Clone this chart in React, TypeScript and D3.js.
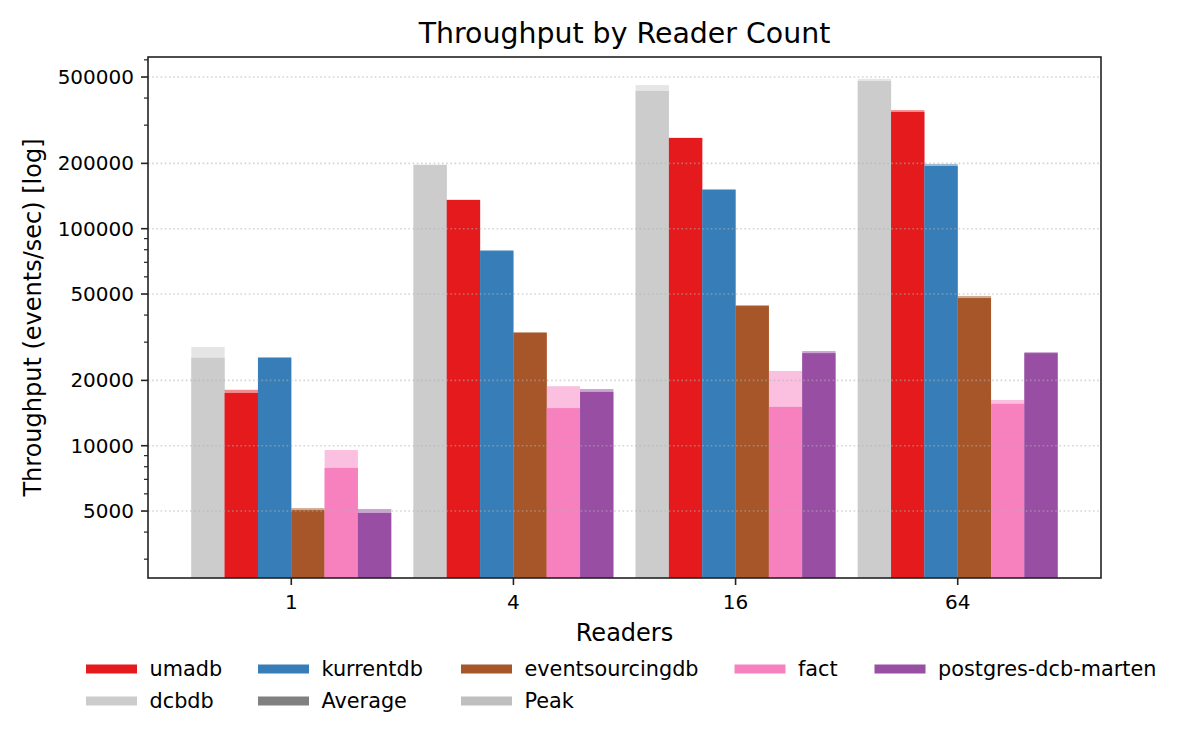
import React, { useEffect, useRef } from 'react';
import * as d3 from 'd3';

const readers = ['1', '4', '16', '64'];
const systems = ['dcbdb', 'umadb', 'kurrentdb', 'eventsourcingdb', 'fact', 'postgres-dcb-marten'];
const systemColors = ['#cccccc', '#e41a1c', '#377eb8', '#a65628', '#f781bf', '#984ea3'];

// average throughput per system, one value per reader count
const dcbdbAvg = [25400, 196600, 431000, 479000];
const umadbAvg = [17500, 135600, 261800, 345000];
const kurrentdbAvg = [25400, 78900, 150800, 194500];
const eventsourcingdbAvg = [5050, 33100, 44000, 47900];
const factAvg = [7900, 14900, 15100, 15600];
const postgresAvg = [4900, 17700, 26700, 26700];

// peak throughput
const dcbdbPeak = [28500, 197500, 459000, 490000];
const umadbPeak = [18100, 136000, 262500, 352000];
const kurrentdbPeak = [25600, 79800, 152400, 198800];
const eventsourcingdbPeak = [5160, 33400, 44500, 49000];
const factPeak = [9550, 18800, 22100, 16250];
const postgresPeak = [5110, 18250, 27300, 27000];

const avgValues = [dcbdbAvg, umadbAvg, kurrentdbAvg, eventsourcingdbAvg, factAvg, postgresAvg];
const peakValues = [dcbdbPeak, umadbPeak, kurrentdbPeak, eventsourcingdbPeak, factPeak, postgresPeak];

const majorTicks = [5000, 10000, 20000, 50000, 100000, 200000, 500000];
const minorTicks = [3000, 4000, 6000, 7000, 8000, 9000, 30000, 40000, 60000, 70000, 80000, 90000,
  300000, 400000, 600000];

// legend: first row are the systems (minus dcbdb), second row dcbdb + the two bar styles
const legendRow1 = ['umadb', 'kurrentdb', 'eventsourcingdb', 'fact', 'postgres-dcb-marten'];
const legendRow1Colors = ['#e41a1c', '#377eb8', '#a65628', '#f781bf', '#984ea3'];
const legendRow2 = ['dcbdb', 'Average', 'Peak'];
const legendRow2Colors = ['#cccccc', '#808080', '#bfbfbf'];

const W = 1200;
const H = 750;
const font = 'DejaVu Sans, sans-serif';
const barWidth = 0.15;

function Chart() {
  const ref = useRef<SVGSVGElement>(null);

  useEffect(() => {
    if (!ref.current) return;
    const svg: any = d3.select(ref.current);
    svg.selectAll('*').remove();

    const left = 148, right = 1101, top = 57, bottom = 578;

    const x = d3.scaleLinear().domain([-0.645, 3.645]).range([left, right]);
    const y = d3.scaleLog().domain([2457, 618300]).range([bottom, top]);

    svg.append('rect').attr('width', W).attr('height', H).attr('fill', '#fff');

    const plot = svg.append('g');
    plot.append('clipPath').attr('id', 'clip')
      .append('rect').attr('x', left).attr('y', top).attr('width', right - left).attr('height', bottom - top);
    const bars = plot.append('g').attr('clip-path', 'url(#clip)');

    systems.forEach((s, si) => {
      const g = bars.append('g').attr('class', 'sys-' + s);
      const x0 = (i: number) => x(i - 0.45 + si * barWidth);
      const bw = x(barWidth) - x(0);
      // peak behind, translucent
      g.selectAll('.peak')
        .data(peakValues[si])
        .enter()
        .append('rect')
        .attr('x', (d: number, i: number) => x0(i))
        .attr('width', bw)
        .attr('y', (d: number) => y(d))
        .attr('height', (d: number) => bottom - y(d))
        .attr('fill', systemColors[si])
        .attr('fill-opacity', 0.5);
      g.selectAll('.avg')
        .data(avgValues[si])
        .enter()
        .append('rect')
        .attr('x', (d: number, i: number) => x0(i))
        .attr('width', bw)
        .attr('y', (d: number) => y(d))
        .attr('height', (d: number) => bottom - y(d))
        .attr('fill', systemColors[si]);
    });

    // grid (drawn over the bars)
    plot.selectAll('.grid')
      .data(majorTicks)
      .enter()
      .append('line')
      .attr('x1', left).attr('x2', right)
      .attr('y1', (d: number) => y(d)).attr('y2', (d: number) => y(d))
      .attr('stroke', '#b0b0b0')
      .attr('stroke-opacity', 0.55)
      .attr('stroke-width', 1.6)
      .attr('stroke-dasharray', '1.6 2.6');

    // y ticks
    plot.selectAll('.ymajor')
      .data(majorTicks)
      .enter()
      .append('line')
      .attr('x1', left - 7).attr('x2', left)
      .attr('y1', (d: number) => y(d)).attr('y2', (d: number) => y(d))
      .attr('stroke', '#222').attr('stroke-width', 1.6);
    plot.selectAll('.yminor')
      .data(minorTicks)
      .enter()
      .append('line')
      .attr('x1', left - 4).attr('x2', left)
      .attr('y1', (d: number) => y(d)).attr('y2', (d: number) => y(d))
      .attr('stroke', '#222').attr('stroke-width', 1.2);
    plot.selectAll('.ylabel')
      .data(majorTicks)
      .enter()
      .append('text')
      .attr('x', left - 14)
      .attr('y', (d: number) => y(d) + 7)
      .attr('text-anchor', 'end')
      .attr('font-family', font)
      .attr('font-size', 20)
      .attr('fill', '#000')
      .text((d: number) => String(d));

    // x ticks
    plot.selectAll('.xtick')
      .data(readers)
      .enter()
      .append('line')
      .attr('x1', (d: string, i: number) => x(i)).attr('x2', (d: string, i: number) => x(i))
      .attr('y1', bottom).attr('y2', bottom + 7)
      .attr('stroke', '#222').attr('stroke-width', 1.6);
    plot.selectAll('.xlabel')
      .data(readers)
      .enter()
      .append('text')
      .attr('x', (d: string, i: number) => x(i))
      .attr('y', 609)
      .attr('text-anchor', 'middle')
      .attr('font-family', font)
      .attr('font-size', 20)
      .attr('fill', '#000')
      .text((d: string) => d);

    // spines
    plot.append('rect')
      .attr('x', left).attr('y', top)
      .attr('width', right - left).attr('height', bottom - top)
      .attr('fill', 'none').attr('stroke', '#222').attr('stroke-width', 1.6);

    // titles
    svg.append('text')
      .attr('x', (left + right) / 2).attr('y', 43)
      .attr('text-anchor', 'middle')
      .attr('font-family', font).attr('font-size', 28.4)
      .text('Throughput by Reader Count');
    svg.append('text')
      .attr('x', (left + right) / 2).attr('y', 641)
      .attr('text-anchor', 'middle')
      .attr('font-family', font).attr('font-size', 24)
      .text('Readers');
    svg.append('text')
      .attr('transform', `translate(41, ${(top + bottom) / 2}) rotate(-90)`)
      .attr('text-anchor', 'middle')
      .attr('font-family', font).attr('font-size', 24)
      .text('Throughput (events/sec) [log]');

    // legend
    const colX = [86, 258, 461, 734.5, 874.5];
    const drawRow = (labels: string[], colors: string[], cy: number) => {
      const items = svg.append('g').selectAll('g')
        .data(labels)
        .enter()
        .append('g')
        .attr('transform', (d: string, i: number) => `translate(${colX[i]}, ${cy})`);
      items.append('rect')
        .attr('x', 0).attr('y', -4.5)
        .attr('width', 51).attr('height', 9)
        .attr('fill', (d: string, i: number) => colors[i]);
      items.append('text')
        .attr('x', 63.5).attr('y', 7.3)
        .attr('font-family', font).attr('font-size', 20.8)
        .text((d: string) => d);
    };
    drawRow(legendRow1, legendRow1Colors, 669);
    drawRow(legendRow2, legendRow2Colors, 701);
  }, []);

  return <svg ref={ref} width={W} height={H} style={{ position: 'absolute', left: 0, top: 0 }} />;
}

export default function App() {
  return <Chart />;
}
